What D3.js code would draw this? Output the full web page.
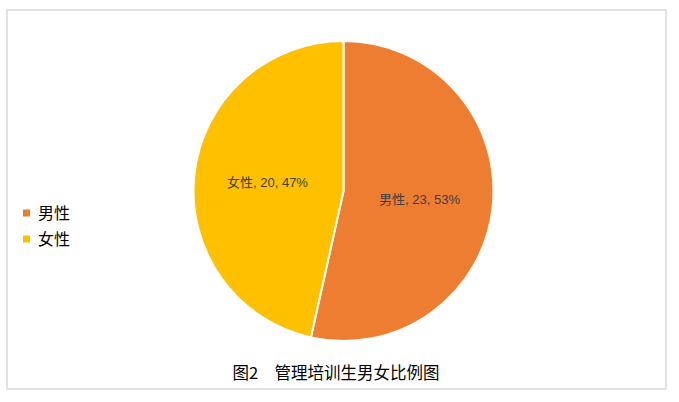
<!DOCTYPE html>
<html>
<head>
<meta charset="utf-8">
<script src="https://cdn.jsdelivr.net/npm/d3@7"></script>
<style>
  body { margin: 0; background: #fff; }
  svg { display: block; }
</style>
</head>
<body>
<svg id="chart"></svg>
<script>
// data
const categories = ['男性', '女性'];
const counts = [23, 20];
const percents = ['53%', '47%'];
const title = '图2\u3000管理培训生男女比例图';

const width = 679, height = 402;
const cx = 343.5, cy = 191, radius = 150;

const svg = d3.select('#chart')
    .attr('width', width)
    .attr('height', height);

// outer frame
svg.append('rect')
    .attr('x', 7).attr('y', 10)
    .attr('width', 659).attr('height', 379)
    .attr('fill', '#fff')
    .attr('stroke', '#d9d9d9')
    .attr('stroke-width', 1.5);

const color = d3.scaleOrdinal()
    .domain(categories)
    .range(['#ED7D31', '#FFC000']);

const pieData = categories.map((c, i) => ({ name: c, value: counts[i], pct: percents[i] }));

const pie = d3.pie().value(d => d.value).sort(null);
const arc = d3.arc().innerRadius(0).outerRadius(radius);
const labelArc = d3.arc().innerRadius(radius * 0.51).outerRadius(radius * 0.51);

const g = svg.append('g')
    .attr('transform', `translate(${cx},${cy})`);

g.selectAll('path')
    .data(pie(pieData))
    .join('path')
    .attr('d', arc)
    .attr('fill', d => color(d.data.name))
    .attr('stroke', '#fff')
    .attr('stroke-width', 2)
    .attr('stroke-linejoin', 'round');

// data labels
g.selectAll('text.lbl')
    .data(pie(pieData))
    .join('text')
    .attr('class', 'lbl')
    .attr('transform', d => `translate(${labelArc.centroid(d)})`)
    .attr('text-anchor', 'middle')
    .attr('dy', '0.35em')
    .style('font-family', '"Liberation Sans", "Noto Sans CJK SC", sans-serif')
    .style('font-size', '13px')
    .attr('fill', '#404040')
    .text(d => `${d.data.name}, ${d.data.value}, ${d.data.pct}`);

// legend
const legend = svg.append('g')
    .attr('transform', 'translate(23,213)');

const item = legend.selectAll('g')
    .data(categories)
    .join('g')
    .attr('transform', (d, i) => `translate(0,${i * 26})`);

item.append('rect')
    .attr('x', 0).attr('y', -3.5)
    .attr('width', 7).attr('height', 7)
    .attr('fill', d => color(d));

item.append('text')
    .attr('x', 15)
    .attr('dy', '0.35em')
    .style('font-family', '"Noto Sans CJK SC", sans-serif')
    .style('font-size', '16px')
    .attr('fill', '#000')
    .text(d => d);

// caption
svg.append('text')
    .attr('x', 336)
    .attr('y', 373)
    .attr('text-anchor', 'middle')
    .attr('dy', '0.35em')
    .style('font-family', '"Noto Sans CJK SC", sans-serif')
    .style('font-size', '16.5px')
    .attr('fill', '#000')
    .text(title);
</script>
</body>
</html>
